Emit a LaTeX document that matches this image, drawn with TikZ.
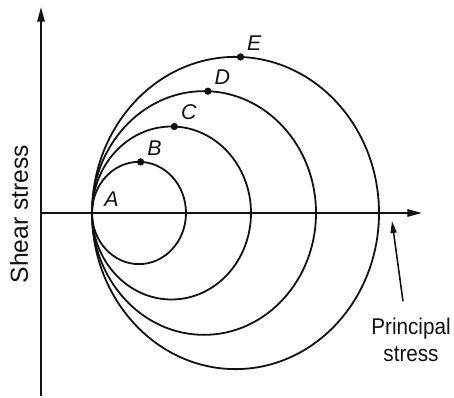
\documentclass[tikz,border=0pt]{standalone}
\usepackage{fontspec}
\setmainfont{Liberation Sans}
\usepackage{tikz}
\usetikzlibrary{arrows.meta,positioning}
\definecolor{inkblack}{RGB}{18,18,18}

\begin{document}
\begin{tikzpicture}[x=0.75pt,y=-0.75pt,
    axis/.style={-{Triangle[length=11pt,width=5.5pt]},line width=1.4pt,color=inkblack},
    mohr/.style={line width=1.35pt,color=inkblack},
    pt/.style={circle,fill=inkblack,inner sep=0pt,minimum size=5.5pt},
    ptlabel/.style={font=\fontsize{16}{19}\selectfont\itshape,inner sep=1pt,text=inkblack}]
    \useasboundingbox (0,0) rectangle (454,398);
    % axes
    \coordinate (tbot) at (41,396);
    \coordinate (ttop) at (41,7);
    \coordinate (sleft) at (41,213);
    \coordinate (sright) at (422,213);
    \draw[axis] (tbot) -- (ttop);
    \draw[axis] (sleft) -- (sright);
    % circles through A
    \coordinate (pA) at (92,213);
    \foreach \r/\name in {47/B,79.5/C,112/D,143.5/E} {
      \pgfmathsetmacro\cx{92+\r}
      \pgfmathsetmacro\ry{1.088*\r}
      \draw[mohr] (\cx,213) ellipse [x radius=\r, y radius=\ry];
      \path (\cx,213) ++(272:\r\space and \ry) node[pt,
            label={[ptlabel,label distance=2.5pt]45:\name}] (p\name) {};
    }
    \node[ptlabel,above right=3.5pt and 8pt of pA] (labA) {A};
    % axis labels
    \node[rotate=90,font=\fontsize{18.5}{22}\selectfont,text=inkblack] (taulabel) at (19,214) {Shear stress};
    \node[align=center,font=\fontsize{15.5}{18}\selectfont,text=inkblack,yscale=1.1] (sigmalabel) at (411,340) {Principal\\stress};
    \coordinate (sigmatip) at (392,221);
    \draw[-{Triangle[length=9pt,width=4.5pt]},line width=1.2pt,color=inkblack]
      ([shift={(-8,-12)}]sigmalabel.north) -- (sigmatip);
\end{tikzpicture}
\end{document}
